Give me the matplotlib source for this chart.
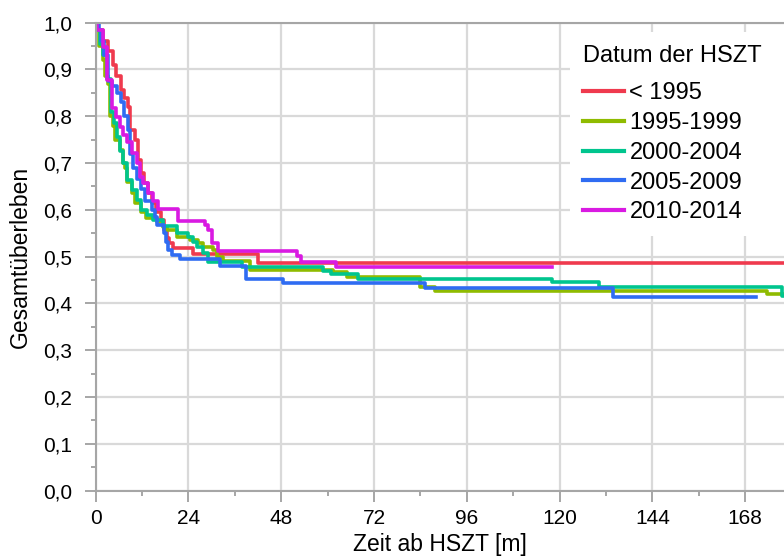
import matplotlib
matplotlib.use("Agg")
import matplotlib.pyplot as plt
from matplotlib.ticker import MultipleLocator, FuncFormatter

plt.rcParams['font.family'] = ['Liberation Sans', 'DejaVu Sans']

# Kaplan-Meier Schätzungen je Transplantationszeitraum (Zeit in Monaten)
red_t = [0, 0.5, 2.0, 3.3, 4.5, 5.2, 6.5, 7.3, 8.4, 9.0, 10.2, 11.0, 11.8, 12.5, 13.6, 14.7,
         15.6, 16.8, 17.7, 18.5, 19.0, 20.0, 25.3, 42.0, 178]
red_s = [1.0, 0.985, 0.96, 0.94, 0.91, 0.885, 0.856, 0.838, 0.82, 0.771, 0.749, 0.707, 0.678,
         0.657, 0.635, 0.614, 0.596, 0.578, 0.557, 0.54, 0.53, 0.518, 0.505, 0.486, 0.486]

olive_t = [0, 0.5, 1.0, 2.0, 2.5, 3.3, 3.8, 4.5, 5.0, 6.3, 7.0, 7.5, 8.2, 9.3, 10.2, 11.8, 13.0,
           16.0, 17.5, 18.4, 21.0, 24.4, 26.6, 27.9, 30.4, 31.5, 33.0, 40.0, 61.5, 64.9, 83.9,
           87.8, 173.7, 178]
olive_s = [1.0, 0.985, 0.95, 0.92, 0.885, 0.87, 0.80, 0.78, 0.75, 0.728, 0.70, 0.69, 0.66, 0.635,
           0.614, 0.596, 0.582, 0.575, 0.564, 0.557, 0.543, 0.536, 0.529, 0.521, 0.514, 0.50,
           0.491, 0.472, 0.467, 0.457, 0.436, 0.427, 0.421, 0.421]

teal_t = [0, 0.4, 1.2, 2.0, 3.0, 3.9, 4.7, 5.6, 6.3, 7.2, 8.0, 9.3, 10.6, 11.8, 13.4, 14.9, 17.5,
          21.0, 24.0, 25.3, 26.1, 27.9, 29.1, 37.8, 58.8, 61.0, 67.9, 117.9, 130.3, 177.4, 178]
teal_s = [1.0, 0.985, 0.955, 0.93, 0.88, 0.81, 0.785, 0.755, 0.725, 0.70, 0.664, 0.643, 0.621,
          0.60, 0.59, 0.578, 0.566, 0.55, 0.543, 0.532, 0.521, 0.507, 0.489, 0.479, 0.470, 0.462,
          0.452, 0.445, 0.436, 0.415, 0.415]

blue_t = [0, 0.8, 1.5, 2.3, 3.2, 4.3, 5.5, 6.6, 7.3, 8.3, 8.9, 9.6, 10.8, 11.8, 12.8, 14.5, 15.3,
          16.0, 17.7, 18.2, 18.8, 19.8, 21.8, 32.2, 38.9, 48.5, 85.2, 133.9, 170.8]
blue_s = [1.0, 0.985, 0.96, 0.93, 0.875, 0.865, 0.85, 0.83, 0.80, 0.77, 0.72, 0.69, 0.665, 0.645,
          0.62, 0.60, 0.585, 0.567, 0.55, 0.532, 0.514, 0.504, 0.495, 0.48, 0.452, 0.443, 0.434,
          0.413, 0.413]

magenta_t = [0, 0.3, 2.0, 3.0, 4.2, 5.4, 6.3, 7.2, 8.0, 9.3, 10.6, 11.5, 12.3, 13.6, 14.9, 16.2,
             21.4, 28.3, 29.2, 30.0, 31.7, 52.0, 53.0, 62.2, 117.9]
magenta_s = [1.0, 0.984, 0.949, 0.878, 0.817, 0.799, 0.778, 0.760, 0.746, 0.721, 0.700, 0.671,
             0.657, 0.635, 0.618, 0.601, 0.577, 0.568, 0.557, 0.529, 0.513, 0.501, 0.489, 0.479,
             0.479]

labels = ['< 1995', '1995-1999', '2000-2004', '2005-2009', '2010-2014']
colors = ['#ef3a4e', '#8fbb00', '#00c58e', '#2f6cf2', '#d91ae2']
curves = [(red_t, red_s), (olive_t, olive_s), (teal_t, teal_s), (blue_t, blue_s),
          (magenta_t, magenta_s)]

fig = plt.figure(figsize=(7.84, 5.6), dpi=100)
ax = fig.add_axes([0.1219, 0.1238, 0.878, 0.8357])

for (t, s), lab, col in zip(curves, labels, colors):
    ax.step(t, s, where='post', color=col, lw=2.6, label=lab)

ax.set_xlim(0, 178)
ax.set_ylim(0, 1.0)
ax.xaxis.set_major_locator(MultipleLocator(24))
ax.xaxis.set_minor_locator(MultipleLocator(12))
ax.yaxis.set_major_locator(MultipleLocator(0.1))
ax.yaxis.set_minor_locator(MultipleLocator(0.05))
ax.yaxis.set_major_formatter(FuncFormatter(lambda v, p: f'{v:.1f}'.replace('.', ',')))

ax.grid(True, which='major', color='#d9d9d9', lw=1.6)
ax.set_axisbelow(True)
for side in ['left', 'bottom', 'top']:
    ax.spines[side].set_color('#a6a6a6')
    ax.spines[side].set_linewidth(1.5)
ax.spines['right'].set_visible(False)

ax.tick_params(which='major', length=8, width=1.4, color='#a6a6a6', labelsize=15)
ax.tick_params(which='minor', length=3.6, width=1.4, color='#a6a6a6')
ax.tick_params(axis='y', which='major', pad=9)
ax.tick_params(axis='x', which='major', pad=5)

ax.set_xlabel('Zeit ab HSZT [m]', fontsize=16.5, labelpad=4)
ax.set_ylabel('Gesamtüberleben', fontsize=16.5, labelpad=8)

leg = ax.legend(title='Datum der HSZT', loc='upper left', bbox_to_anchor=(0.727, 0.943, 0.28, 0.0),
                bbox_transform=fig.transFigure, mode='expand', borderaxespad=0,
                fontsize=17, title_fontsize=17, alignment='left', frameon=True,
                fancybox=False, edgecolor='none', facecolor='white', framealpha=1,
                handlelength=1.75, handletextpad=0.22, labelspacing=0.33, borderpad=0.55)
# etwas mehr Abstand zwischen Titel und Einträgen
leg._legend_box.sep = 11
for line in leg.get_lines():
    line.set_linewidth(3)

fig.savefig('out.png', dpi=100)
